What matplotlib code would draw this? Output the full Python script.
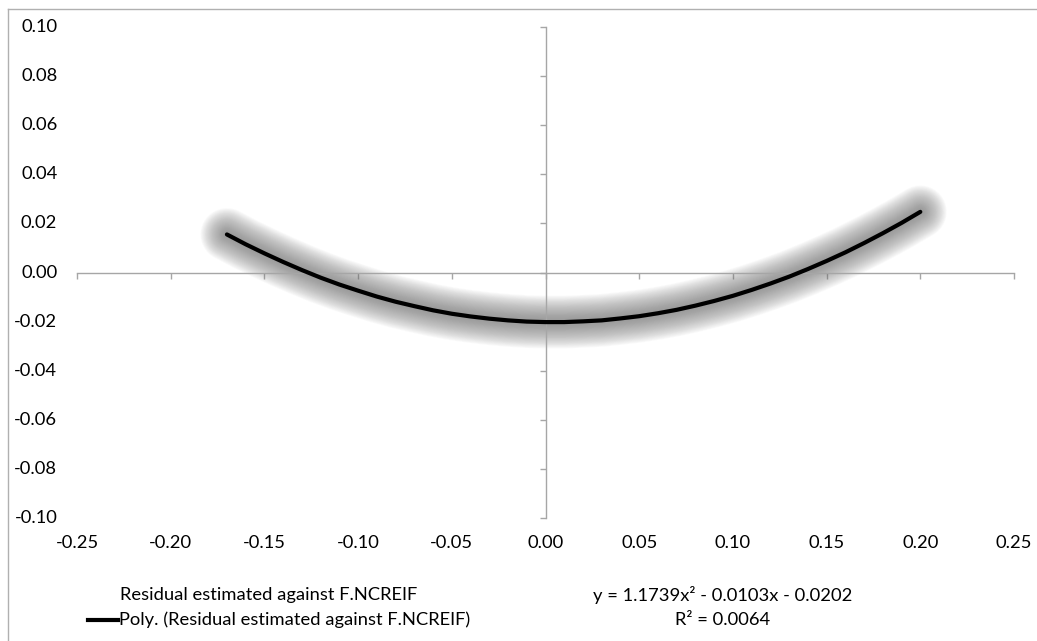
import matplotlib
matplotlib.use("Agg")
import matplotlib.pyplot as plt
from matplotlib.lines import Line2D
import numpy as np

# Trend line points
x_vals = [-0.17, -0.16, -0.15, -0.14, -0.13, -0.12, -0.11, -0.10, -0.09, -0.08,
          -0.07, -0.06, -0.05, -0.04, -0.03, -0.02, -0.01, 0.00, 0.01, 0.02,
          0.03, 0.04, 0.05, 0.06, 0.07, 0.08, 0.09, 0.10, 0.11, 0.12,
          0.13, 0.14, 0.15, 0.16, 0.17, 0.18, 0.19, 0.20]
y_vals = [0.0155, 0.0115, 0.0078, 0.0043, 0.0010, -0.0021, -0.0049, -0.0074, -0.0098, -0.0119,
          -0.0137, -0.0154, -0.0168, -0.0179, -0.0188, -0.0195, -0.0200, -0.0202, -0.0202, -0.0199,
          -0.0195, -0.0187, -0.0178, -0.0166, -0.0152, -0.0135, -0.0116, -0.0095, -0.0071, -0.0045,
          -0.0017, 0.0014, 0.0047, 0.0082, 0.0120, 0.0160, 0.0202, 0.0247]

x_ticks = [-0.25, -0.20, -0.15, -0.10, -0.05, 0.00, 0.05, 0.10, 0.15, 0.20, 0.25]
y_ticks = [-0.10, -0.08, -0.06, -0.04, -0.02, 0.00, 0.02, 0.04, 0.06, 0.08, 0.10]
series_label = "Residual estimated against F.NCREIF"
trend_label = "Poly. (Residual estimated against F.NCREIF)"
eq_text = "y = 1.1739x² - 0.0103x - 0.0202"
r2_text = "R² = 0.0064"

plt.rcParams['font.family'] = ['Lato', 'DejaVu Sans']
FS = 13.2
AX_COL = '#a6a6a6'

W, H = 1037, 641
fig = plt.figure(figsize=(W / 100, H / 100), dpi=100)
ax = fig.add_axes([77 / W, 1 - 518 / H, (1014 - 77) / W, (518 - 27) / H])
ax.set_xlim(-0.25, 0.25)
ax.set_ylim(-0.10, 0.10)

for s in ['top', 'right']:
    ax.spines[s].set_visible(False)
ax.spines['left'].set_position(('data', 0))
ax.spines['bottom'].set_position(('data', 0))
for s in ['left', 'bottom']:
    ax.spines[s].set_color(AX_COL)
    ax.spines[s].set_linewidth(1.0)
ax.set_xticks(x_ticks)
ax.set_yticks(y_ticks)
ax.tick_params(axis='both', direction='out', length=4, width=1.0, color=AX_COL,
               labelleft=False, labelbottom=False)

# tick labels at the low position (Excel style)
for yt in y_ticks:
    ax.text(-0.021, yt, f"{yt:.2f}", transform=ax.get_yaxis_transform(),
            ha='right', va='center', fontsize=FS, color='black')
for xt in x_ticks:
    ax.text(xt, -0.051, f"{xt:.2f}", transform=ax.get_xaxis_transform(),
            ha='center', va='center', fontsize=FS, color='black')

# glow
widths = np.linspace(38, 4, 28)
for w in widths:
    ax.plot(x_vals, y_vals, color='#707070', alpha=0.037, lw=w,
            solid_capstyle='round', solid_joinstyle='round', zorder=2)
ax.plot(x_vals, y_vals, color='black', lw=3.0, solid_capstyle='round', zorder=3)

# legend (manual)
fig.text(120 / W, 1 - 595 / H, series_label, ha='left', va='center', fontsize=FS)
fig.add_artist(Line2D([88 / W, 118 / W], [1 - 620 / H, 1 - 620 / H], color='black', lw=3.0))
fig.text(119 / W, 1 - 620 / H, trend_label, ha='left', va='center', fontsize=FS)

# equation
fig.text(723 / W, 1 - 595 / H, eq_text, ha='center', va='center', fontsize=FS)
fig.text(723 / W, 1 - 620 / H, r2_text, ha='center', va='center', fontsize=FS)

# chart border
fig.add_artist(Line2D([7.5 / W, 7.5 / W], [0, 1 - 9 / H], color='#b0b0b0', lw=1.0))
fig.add_artist(Line2D([7.5 / W, 1], [1 - 9 / H, 1 - 9 / H], color='#b0b0b0', lw=1.0))

fig.savefig('out.png', dpi=100)
